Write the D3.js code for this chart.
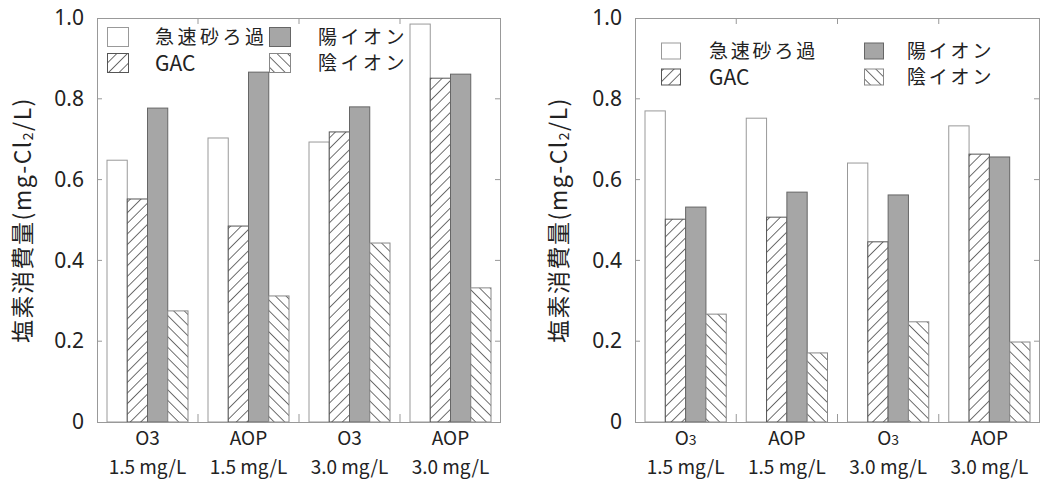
<!DOCTYPE html>
<html>
<head>
<meta charset="utf-8">
<script src="https://cdn.jsdelivr.net/npm/d3@7"></script>
<style>
  body { margin: 0; background: #fff; }
  text { font-family: "Noto Sans CJK JP", "Noto Sans", sans-serif; fill: #222; }
</style>
</head>
<body>
<div id="chart"></div>
<script>
// data
const series = ["急速砂ろ過", "GAC", "陽イオン", "陰イオン"];
const groupTop = ["O3", "AOP", "O3", "AOP"];
const groupBottom = ["1.5 mg/L", "1.5 mg/L", "3.0 mg/L", "3.0 mg/L"];
const yTicks = [0, 0.2, 0.4, 0.6, 0.8, 1.0];

const rapidSandLeft = [0.648, 0.703, 0.693, 0.985];
const gacLeft = [0.552, 0.485, 0.718, 0.851];
const cationLeft = [0.777, 0.866, 0.780, 0.861];
const anionLeft = [0.275, 0.312, 0.443, 0.332];

const rapidSandRight = [0.770, 0.752, 0.641, 0.733];
const gacRight = [0.502, 0.507, 0.446, 0.663];
const cationRight = [0.532, 0.569, 0.562, 0.656];
const anionRight = [0.267, 0.171, 0.248, 0.198];

const svg = d3.select('#chart')
    .append('svg')
    .attr('width', 1040)
    .attr('height', 480);

// hatch patterns
const defs = svg.append('defs');
function hatch(id, angle) {
    const p = defs.append('pattern')
        .attr('id', id)
        .attr('patternUnits', 'userSpaceOnUse')
        .attr('width', 7.5)
        .attr('height', 7.5)
        .attr('patternTransform', `rotate(${angle})`);
    p.append('rect').attr('width', 7.5).attr('height', 7.5).attr('fill', '#fff');
    p.append('line')
        .attr('x1', 0).attr('y1', 0).attr('x2', 0).attr('y2', 7.5)
        .attr('stroke', '#222').attr('stroke-width', 1.3);
}
hatch('fwd', 45);
hatch('back', -45);

const fills = ['#fff', 'url(#fwd)', '#a6a6a6', 'url(#back)'];
const strokes = ['#999', '#555', '#666', '#888'];

function drawChart(opt) {
    const values = [opt.a, opt.b, opt.c, opt.d];
    const top = 18, bottom = 422;

    const y = d3.scaleLinear().domain([0, 1]).range([bottom, top]);
    const x0 = d3.scaleBand().domain(d3.range(4)).range([opt.left, opt.right]);
    const x1 = d3.scaleBand().domain(d3.range(4)).range([opt.inset, x0.bandwidth() - opt.inset]);

    const g = svg.append('g');

    // bars
    series.forEach((s, si) => {
        g.selectAll(null)
            .data(values[si])
            .join('rect')
            .attr('x', (d, i) => x0(i) + x1(si))
            .attr('y', d => y(d))
            .attr('width', x1.bandwidth())
            .attr('height', d => bottom - y(d))
            .attr('fill', fills[si])
            .attr('stroke', strokes[si])
            .attr('stroke-width', 1);
    });

    // frame
    g.append('rect')
        .attr('x', opt.left + 0.5).attr('y', top + 0.5)
        .attr('width', opt.right - opt.left - 1).attr('height', bottom - top)
        .attr('fill', 'none').attr('stroke', '#999').attr('stroke-width', 1);

    // inner ticks
    yTicks.slice(1, -1).forEach(t => {
        g.append('line').attr('x1', opt.left).attr('x2', opt.left + 5)
            .attr('y1', y(t)).attr('y2', y(t)).attr('stroke', '#999');
        g.append('line').attr('x1', opt.right - 6).attr('x2', opt.right)
            .attr('y1', y(t)).attr('y2', y(t)).attr('stroke', '#999');
    });
    d3.range(1, 4).forEach(i => {
        g.append('line').attr('x1', x0(i)).attr('x2', x0(i))
            .attr('y1', top).attr('y2', top + 6).attr('stroke', '#999');
        g.append('line').attr('x1', x0(i)).attr('x2', x0(i))
            .attr('y1', bottom).attr('y2', bottom - 8).attr('stroke', '#999');
    });

    // y axis labels
    const yAxis = d3.axisLeft(y)
        .tickValues(yTicks)
        .tickSize(0)
        .tickPadding(13)
        .tickFormat(d => d === 0 ? '0' : d3.format('.1f')(d));
    const yg = g.append('g')
        .attr('transform', `translate(${opt.left},0)`)
        .call(yAxis);
    yg.select('.domain').remove();
    yg.selectAll('text')
        .style('font-size', '21px')
        .style('font-family', '"Noto Sans", sans-serif')
        .attr('fill', '#222');

    // y title
    const title = g.append('text')
        .attr('transform', `translate(${opt.titleX},220) rotate(-90)`)
        .attr('text-anchor', 'middle')
        .attr('dy', '0.35em')
        .style('font-size', '23px')
        .style('letter-spacing', '1.5px');
    title.append('tspan').text('塩素消費量(mg-Cl');
    title.append('tspan').text('2').style('font-size', '14px').attr('dy', '2');
    title.append('tspan').text('/L)').attr('dy', '-2');

    // x labels
    groupTop.forEach((lab, i) => {
        const cx = x0(i) + x0.bandwidth() / 2;
        const t = g.append('text')
            .attr('x', cx).attr('y', 445)
            .attr('text-anchor', 'middle')
            .style('font-size', '19px');
        if (opt.subscript && lab === 'O3') {
            t.append('tspan').text('O');
            t.append('tspan').text('3').style('font-size', '14px');
        } else {
            t.text(lab);
        }
        g.append('text')
            .attr('x', cx).attr('y', 474)
            .attr('text-anchor', 'middle')
            .style('font-size', '19px')
            .text(groupBottom[i]);
    });

    // legend (column-major: 2 rows)
    const L = opt.legend;
    series.forEach((s, si) => {
        const col = Math.floor(si / 2), row = si % 2;
        const cy = L.rows[row];
        const latin = /^[A-Z]+$/.test(s);
        g.append('rect')
            .attr('x', L.boxX[col]).attr('y', cy - L.boxH / 2)
            .attr('width', L.boxW).attr('height', L.boxH)
            .attr('fill', fills[si]).attr('stroke', strokes[si]);
        g.append('text')
            .attr('x', L.textX[col]).attr('y', cy)
            .attr('dy', '0.36em')
            .style('font-size', (latin ? 21 : L.size) + 'px')
            .style('letter-spacing', (latin ? 0 : L.spacing) + 'px')
            .text(s);
    });
}

drawChart({
    left: 97, right: 501, inset: 10, titleX: 23,
    a: rapidSandLeft, b: gacLeft, c: cationLeft, d: anionLeft,
    subscript: false,
    legend: { rows: [37, 63], boxX: [107.5, 269.5], textX: [155, 318], boxW: 21, boxH: 19, size: 19, spacing: 3.5 }
});

drawChart({
    left: 635, right: 1040, inset: 10, titleX: 559,
    a: rapidSandRight, b: gacRight, c: cationRight, d: anionRight,
    subscript: true,
    legend: { rows: [51, 77], boxX: [661.5, 864.5], textX: [709, 907], boxW: 19, boxH: 16, size: 19, spacing: 2.8 }
});
</script>
</body>
</html>
